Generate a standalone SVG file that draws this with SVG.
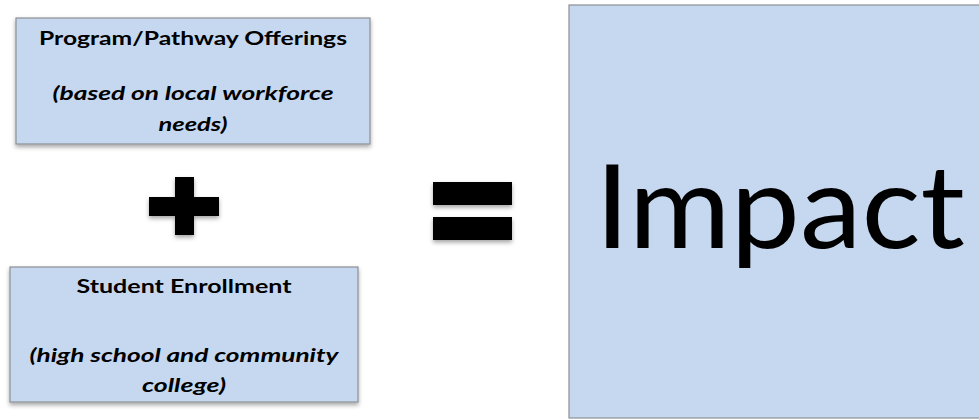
<svg xmlns="http://www.w3.org/2000/svg" width="979" height="420" viewBox="0 0 979 420">
<style>
.box{fill:#C6D8EF;stroke:#8C8F94;stroke-width:1.2}
.t{font-family:Lato,"Open Sans","Liberation Sans",sans-serif;font-weight:bold;font-size:19px;fill:#000;text-anchor:middle}
.i{font-style:italic}
.sym{fill:#000}
</style>
<defs>
<filter id="sh" x="-10%" y="-10%" width="120%" height="130%">
<feDropShadow dx="0" dy="2.5" stdDeviation="2" flood-color="#000" flood-opacity="0.35"/>
</filter>
</defs>
<rect width="979" height="420" fill="#fff"/>
<g id="offerings">
<rect class="box" x="16" y="18" width="354" height="126" filter="url(#sh)"/>
<text class="t" x="193" y="45" textLength="308" lengthAdjust="spacingAndGlyphs">Program/Pathway Offerings</text>
<text class="t i" x="193" y="100" textLength="281" lengthAdjust="spacingAndGlyphs">(based on local workforce</text>
<text class="t i" x="193" y="131" textLength="69" lengthAdjust="spacingAndGlyphs">needs)</text>
</g>
<g id="enrollment">
<rect class="box" x="10" y="267" width="348" height="135" filter="url(#sh)"/>
<text class="t" x="184" y="293" textLength="215" lengthAdjust="spacingAndGlyphs">Student Enrollment</text>
<text class="t i" x="184" y="362" textLength="309" lengthAdjust="spacingAndGlyphs">(high school and community</text>
<text class="t i" x="184" y="392" textLength="84" lengthAdjust="spacingAndGlyphs">college)</text>
</g>
<g id="plus" filter="url(#sh)">
<path class="sym" d="M175 177H194V197H219V216H194V235H175V216H149V197H175Z"/>
</g>
<g id="equals" filter="url(#sh)">
<rect class="sym" x="433" y="182" width="79" height="23"/>
<rect class="sym" x="433" y="217" width="79" height="23"/>
</g>
<g id="impact">
<rect class="box" x="569" y="5" width="420" height="413"/>
<text x="595" y="248" font-family="Lato, Open Sans, Liberation Sans, sans-serif" font-size="116" textLength="370" lengthAdjust="spacingAndGlyphs" fill="#000">Impact</text>
</g>
<g id="connectors"/>
</svg>
